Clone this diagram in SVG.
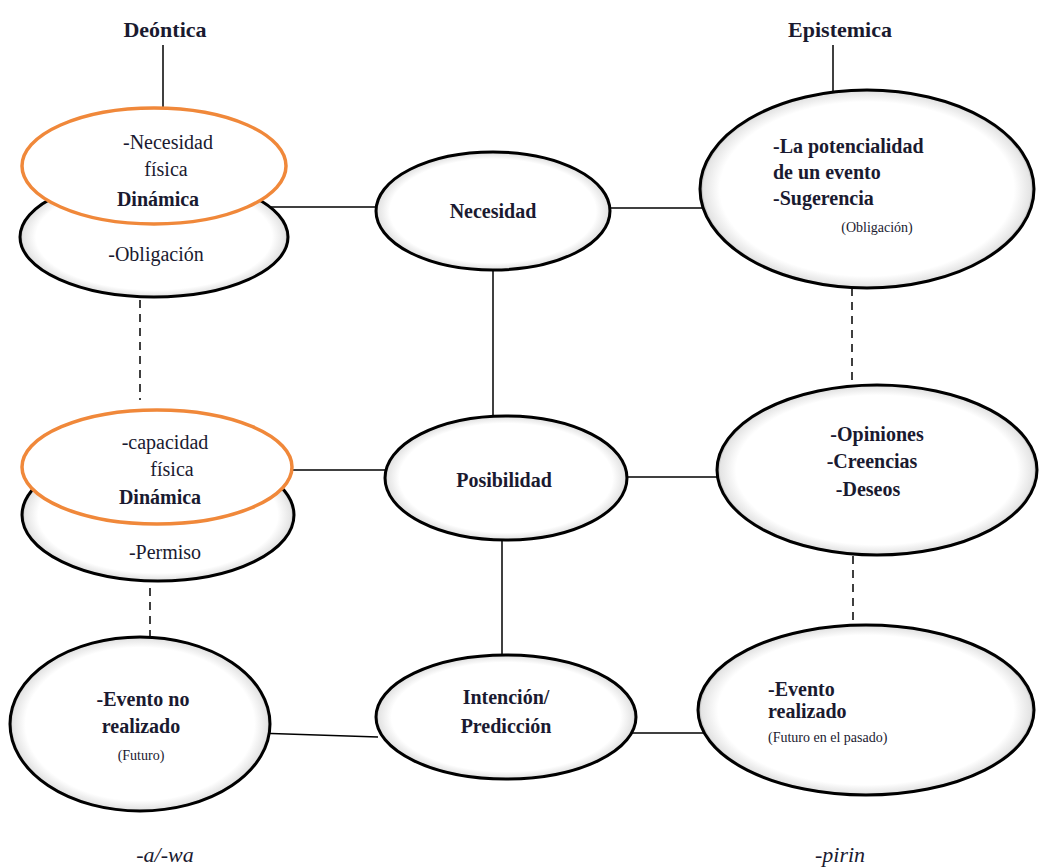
<svg xmlns="http://www.w3.org/2000/svg" width="1044" height="868" viewBox="0 0 1044 868">
<defs>
<radialGradient id="g" cx="50%" cy="50%" r="50%">
<stop offset="0.88" stop-color="#ffffff"/>
<stop offset="0.98" stop-color="#e4e4e4"/>
<stop offset="1" stop-color="#999"/>
</radialGradient>
<style>
.b{font-weight:bold}
.e{fill:url(#g);stroke:#000;stroke-width:3}
.o{fill:#fff;stroke:#f0883a;stroke-width:3.5}
.c line{stroke:#000;stroke-width:1.5}
.d{stroke-dasharray:8 6}
.t{font-size:20px}
.s{font-size:14px}
.h{font-size:22px;font-weight:bold}
.i{font-size:22px;font-style:italic}
</style>
</defs>
<rect width="1044" height="868" fill="#fff"/>
<g class="c">
<line x1="163" y1="45" x2="163" y2="108"/>
<line x1="833" y1="45" x2="833" y2="91"/>
<line x1="262" y1="207" x2="377" y2="207"/>
<line x1="610" y1="208" x2="715" y2="208"/>
<line x1="493" y1="270" x2="493" y2="417"/>
<line x1="290" y1="470" x2="386" y2="470"/>
<line x1="627" y1="477" x2="719" y2="477"/>
<line x1="502" y1="540" x2="502" y2="656"/>
<line x1="256" y1="733" x2="378" y2="737"/>
<line x1="628" y1="733" x2="703" y2="733"/>
<line class="d" x1="140" y1="300" x2="140" y2="400"/>
<line class="d" x1="150" y1="588" x2="150" y2="637"/>
<line class="d" x1="852" y1="288" x2="852" y2="385"/>
<line class="d" x1="853" y1="556" x2="853" y2="626"/>
</g>
<g font-family="Liberation Serif, Times New Roman, Tinos, DejaVu Serif, serif" fill="#1a1a30">
<g id="deontica"><text class="h" x="165" y="37" text-anchor="middle">Deóntica</text></g>
<g id="epistemica"><text class="h" x="840" y="37" text-anchor="middle">Epistemica</text></g>
<g id="dinamica1">
<ellipse class="e" cx="154" cy="237" rx="134" ry="60"/>
<ellipse class="o" cx="154" cy="166" rx="132" ry="58"/>
<text class="t" x="168" y="149" text-anchor="middle">-Necesidad</text>
<text class="t" x="166" y="176" text-anchor="middle">física</text>
<text class="t b" x="158" y="206" text-anchor="middle">Dinámica</text>
<text class="t" x="156" y="261" text-anchor="middle">-Obligación</text>
</g>
<g id="necesidad">
<ellipse class="e" cx="493" cy="211" rx="117" ry="59"/>
<text class="t b" x="493" y="218" text-anchor="middle">Necesidad</text>
</g>
<g id="potencialidad">
<ellipse class="e" cx="867" cy="189" rx="167" ry="99"/>
<text class="t b" x="773" y="153">-La potencialidad</text>
<text class="t b" x="773" y="179">de un evento</text>
<text class="t b" x="773" y="205">-Sugerencia</text>
<text class="s" x="877" y="232" text-anchor="middle">(Obligación)</text>
</g>
<g id="dinamica2">
<ellipse class="e" cx="158" cy="515" rx="136" ry="66"/>
<ellipse class="o" cx="157" cy="467" rx="135" ry="57"/>
<text class="t" x="165" y="449" text-anchor="middle">-capacidad</text>
<text class="t" x="172" y="476" text-anchor="middle">física</text>
<text class="t b" x="160" y="504" text-anchor="middle">Dinámica</text>
<text class="t" x="165" y="559" text-anchor="middle">-Permiso</text>
</g>
<g id="posibilidad">
<ellipse class="e" cx="506" cy="478" rx="121" ry="62"/>
<text class="t b" x="504" y="487" text-anchor="middle">Posibilidad</text>
</g>
<g id="opiniones">
<ellipse class="e" cx="877" cy="470" rx="160" ry="85"/>
<text class="t b" x="877" y="441" text-anchor="middle">-Opiniones</text>
<text class="t b" x="872" y="468" text-anchor="middle">-Creencias</text>
<text class="t b" x="868" y="496" text-anchor="middle">-Deseos</text>
</g>
<g id="noRealizado">
<ellipse class="e" cx="140" cy="724" rx="130" ry="87"/>
<text class="t b" x="143" y="706" text-anchor="middle">-Evento no</text>
<text class="t b" x="141" y="733" text-anchor="middle">realizado</text>
<text class="s" x="141" y="760" text-anchor="middle">(Futuro)</text>
</g>
<g id="intencion">
<ellipse class="e" cx="506" cy="717" rx="130" ry="62"/>
<text class="t b" x="506" y="704" text-anchor="middle">Intención/</text>
<text class="t b" x="506" y="733" text-anchor="middle">Predicción</text>
</g>
<g id="realizado">
<ellipse class="e" cx="866" cy="710" rx="168" ry="85"/>
<text class="t b" x="768" y="696">-Evento</text>
<text class="t b" x="768" y="718">realizado</text>
<text class="s" x="768" y="742">(Futuro en el pasado)</text>
</g>
<g id="awa"><text class="i" x="165" y="862" text-anchor="middle">-a/-wa</text></g>
<g id="pirin"><text class="i" x="840" y="862" text-anchor="middle">-pirin</text></g>
</g>
</svg>
